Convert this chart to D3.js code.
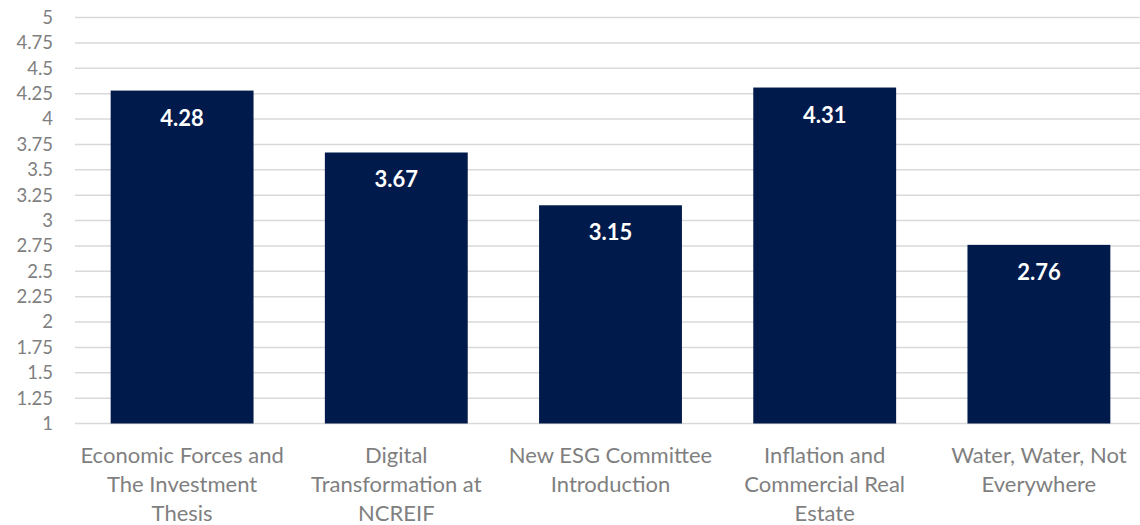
<!DOCTYPE html>
<html>
<head>
<meta charset="utf-8">
<script src="https://cdn.jsdelivr.net/npm/d3@7"></script>
<style>
  body { margin: 0; background: #fff; }
  text { font-family: Lato, "Open Sans", sans-serif; }
</style>
</head>
<body>
<script>
let categories = [
    "Economic Forces and\nThe Investment\nThesis",
    "Digital\nTransformation at\nNCREIF",
    "New ESG Committee\nIntroduction",
    "Inflation and\nCommercial Real\nEstate",
    "Water, Water, Not\nEverywhere"
];
let values = [4.28, 3.67, 3.15, 4.31, 2.76];
let yTicks = [1, 1.25, 1.5, 1.75, 2, 2.25, 2.5, 2.75, 3, 3.25, 3.5, 3.75, 4, 4.25, 4.5, 4.75, 5];

let width = 1140;
let height = 525;
let plotLeft = 75, plotRight = 1146, plotTop = 17.5, plotBottom = 423.5;

let svg = d3.select("body").append("svg")
    .attr("width", width)
    .attr("height", height);

let x = d3.scaleBand()
    .domain(categories)
    .range([plotLeft, plotRight])
    .paddingInner(0.333)
    .paddingOuter(0.1665);

let y = d3.scaleLinear()
    .domain([1, 5])
    .range([plotBottom, plotTop]);

// gridlines
svg.selectAll("line.grid")
    .data(yTicks)
    .enter()
        .append("line")
        .attr("class", "grid")
        .attr("x1", plotLeft)
        .attr("x2", plotRight)
        .attr("y1", (d) => y(d))
        .attr("y2", (d) => y(d))
        .attr("stroke", "#d9d9d9")
        .attr("stroke-width", 1.5);

// y axis labels
let yAxis = d3.axisLeft(y)
    .tickValues(yTicks)
    .tickSize(0)
    .tickPadding(0)
    .tickFormat((d) => d3.format("")(d));

svg.append("g")
    .attr("transform", `translate(${plotLeft - 22}, 0)`)
    .call(yAxis)
    .call((g) => g.select(".domain").remove())
    .selectAll("text")
        .attr("fill", "#7f7f7f")
        .style("font-size", "18.5px")
        .style("font-family", "Lato, 'Open Sans', sans-serif");

// bars
svg.selectAll("rect.bar")
    .data(values)
    .enter()
        .append("rect")
        .attr("class", "bar")
        .attr("x", (d, i) => x(categories[i]))
        .attr("width", x.bandwidth())
        .attr("y", (d) => y(d))
        .attr("height", (d) => y(1) - y(d))
        .attr("fill", "#001a4b");

// value labels
svg.selectAll("text.val")
    .data(values)
    .enter()
        .append("text")
        .attr("class", "val")
        .attr("x", (d, i) => x(categories[i]) + x.bandwidth() / 2)
        .attr("y", (d) => y(d) + 35)
        .attr("text-anchor", "middle")
        .attr("fill", "#fff")
        .style("font-size", "22px")
        .style("font-weight", "bold")
        .text((d) => d.toFixed(2));

// category labels
let cat = svg.selectAll("text.cat")
    .data(categories)
    .enter()
        .append("text")
        .attr("class", "cat")
        .attr("text-anchor", "middle")
        .attr("fill", "#7f7f7f")
        .style("font-size", "22px")
        .attr("transform", (d) => `translate(${x(d) + x.bandwidth() / 2}, 463)`);

cat.selectAll("tspan")
    .data((d) => d.split("\n"))
    .enter()
        .append("tspan")
        .attr("x", 0)
        .attr("y", (d, i) => i * 29)
        .text((d) => d);
</script>
</body>
</html>
